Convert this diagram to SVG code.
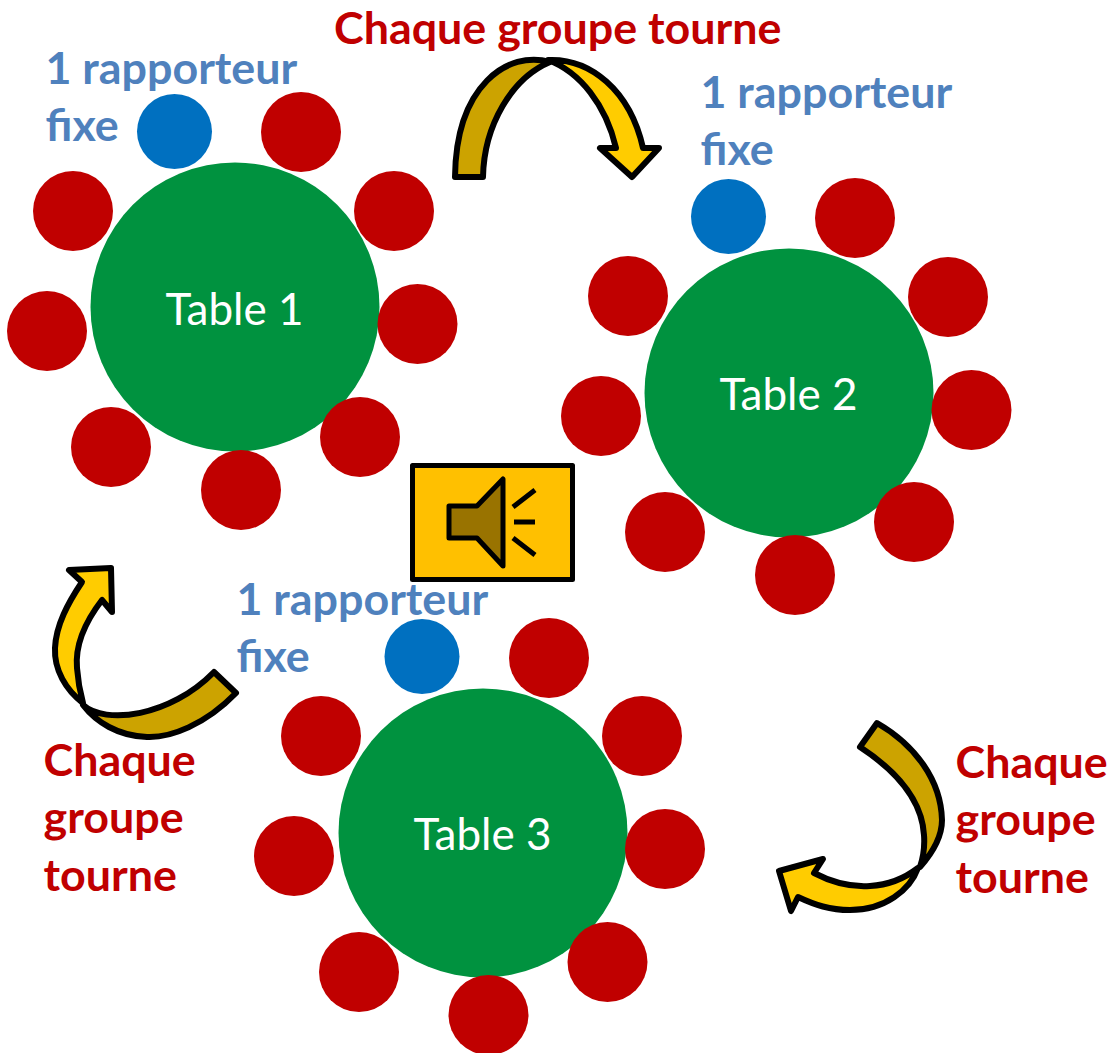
<svg xmlns="http://www.w3.org/2000/svg" width="1110" height="1053" viewBox="0 0 1110 1053">
<style>
text{font-family:"Lato","Carlito","Liberation Sans",sans-serif}
.l{font-size:44.8px;font-weight:700}
.r{fill:#c00000}
.b{fill:#0070c0}
.g{fill:#00923f}
.lb{fill:#4f81bd}
.lr{fill:#c00000}
.t{font-size:44px;fill:#fff;text-anchor:middle}
.a{stroke:#000;stroke-width:6;stroke-linejoin:round}
.d{fill:#cca300}
.y{fill:#ffcc00}
</style>
<rect width="1110" height="1053" fill="#fff"/>
<g id="table1">
<circle class="g" cx="235" cy="307" r="144.5"/>
<text class="t" x="234.500" y="325">Table 1</text>
<circle class="b" cx="174.500" cy="131.500" r="37.500"/>
<circle class="r" cx="301" cy="132" r="40"/><circle class="r" cx="394" cy="211" r="40"/><circle class="r" cx="417.500" cy="324" r="40"/><circle class="r" cx="360" cy="437" r="40"/><circle class="r" cx="241" cy="490" r="40"/><circle class="r" cx="111" cy="447" r="40"/><circle class="r" cx="47" cy="331" r="40"/><circle class="r" cx="73" cy="211" r="40"/>
<text class="l lb" x="45.500" y="84">1 rapporteur</text><text class="l lb" x="45.500" y="141">fixe</text>
</g>
<g id="table2">
<circle class="g" cx="789" cy="393" r="144.5"/>
<text class="t" x="788.500" y="410">Table 2</text>
<circle class="b" cx="728.500" cy="216.500" r="37.500"/>
<circle class="r" cx="855" cy="218" r="40"/><circle class="r" cx="948" cy="297" r="40"/><circle class="r" cx="971.500" cy="410" r="40"/><circle class="r" cx="914" cy="522" r="40"/><circle class="r" cx="795" cy="575" r="40"/><circle class="r" cx="665" cy="532" r="40"/><circle class="r" cx="601" cy="416" r="40"/><circle class="r" cx="628" cy="296" r="40"/>
<text class="l lb" x="700.500" y="108">1 rapporteur</text><text class="l lb" x="700.500" y="165">fixe</text>
</g>
<g id="table3">
<circle class="g" cx="483" cy="833" r="144.500"/>
<text class="t" x="482.500" y="850">Table 3</text>
<circle class="b" cx="422" cy="656.500" r="37.500"/>
<circle class="r" cx="549" cy="658" r="40"/><circle class="r" cx="642" cy="736" r="40"/><circle class="r" cx="665" cy="849" r="40"/><circle class="r" cx="607.500" cy="962" r="40"/><circle class="r" cx="488.500" cy="1015" r="40"/><circle class="r" cx="359" cy="972" r="40"/><circle class="r" cx="294" cy="856" r="40"/><circle class="r" cx="321" cy="736" r="40"/>
<text class="l lb" x="236.500" y="615">1 rapporteur</text><text class="l lb" x="236.500" y="672">fixe</text>
</g>
<g id="speaker">
<rect x="412.500" y="465.500" width="160" height="114" fill="#ffc000" stroke="#000" stroke-width="5" stroke-linejoin="round"/>
<path d="M449 506H477L503 479V566L477 538H449Z" fill="#997300" stroke="#000" stroke-width="5" stroke-linejoin="round"/>
<path d="M513 507L535 490M514 522H535M513 538L535 555" fill="none" stroke="#000" stroke-width="5"/>
</g>
<g id="connectors">
<g id="arrow-top">
<path class="a d" d="M455 177H483C484 125 512 78 550 62C508 50 456 85 455 177Z"/>
<path class="a y" d="M548 60C590 58 630 90 643 148H659L632 177L600 148H616C606 105 580 72 548 60Z"/>
</g>
<g id="arrow-left">
<path class="a d" d="M214 672L236 693C205 725 170 738 147 737C118 736 96 722 83 705C105 725 170 717 214 672Z"/>
<path class="a y" d="M69 570L111 568L112 612L102 600C85 622 75 645 77 668C78 682 80 692 83 703C66 690 54 670 55 648C56 625 68 603 82 582Z"/>
</g>
<g id="arrow-right">
<path class="a d" d="M877 723L860 747C895 770 922 800 924 835C925 848 923 858 920 867C935 850 942 835 942 820C941 780 915 745 877 723Z"/>
<path class="a y" d="M779 871L823 859L814 873C835 884 855 887 870 886C890 885 905 878 918 868C910 890 885 910 850 910C830 910 815 905 798 897L791 911Z"/>
</g>
</g>
<g id="labels">
<text class="l lr" x="334" y="44">Chaque groupe tourne</text>
<text class="l lr" x="43.500" y="776">Chaque</text><text class="l lr" x="43.500" y="833">groupe</text><text class="l lr" x="43.500" y="891">tourne</text>
<text class="l lr" x="955.500" y="778">Chaque</text><text class="l lr" x="955.500" y="835">groupe</text><text class="l lr" x="955.500" y="893">tourne</text>
</g>
</svg>
